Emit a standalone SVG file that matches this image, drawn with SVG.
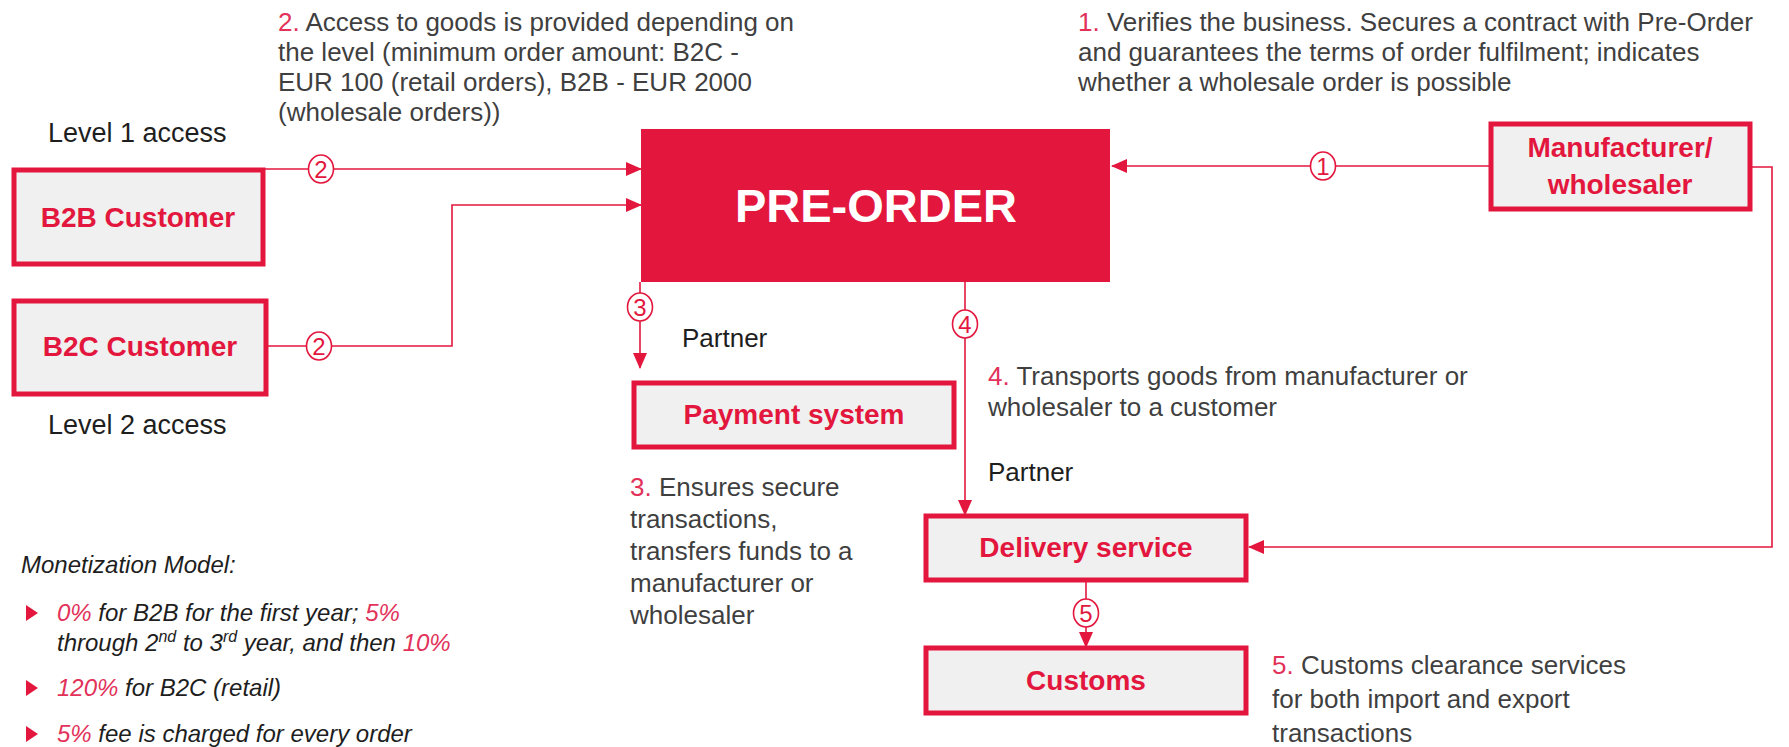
<svg xmlns="http://www.w3.org/2000/svg" width="1789" height="747" viewBox="0 0 1789 747">
  <defs>
    <marker id="arrow" markerUnits="userSpaceOnUse" markerWidth="16" markerHeight="14" refX="15" refY="7" orient="auto">
      <path d="M0,0 L16,7 L0,14 Z" fill="#E3173E"/>
    </marker>
  </defs>
  <style>
    .box{fill:#F0F0F0;stroke:#E3173E;stroke-width:5}
    .lbl{font-family:"Liberation Sans",Arial,sans-serif;font-weight:bold;fill:#E3173E;font-size:28px;text-anchor:middle}
    .desc{font-family:"Liberation Sans",Arial,sans-serif;font-size:26px;fill:#3F3F3F}
    .num{fill:#E2325A}
    .plain{font-family:"Liberation Sans",Arial,sans-serif;font-size:26px;fill:#1E1E1E}
    .level{font-size:27px}
    .conn{fill:none;stroke:#E3173E;stroke-width:1.6}
    .badge ellipse{fill:#FFFFFF;stroke:#E3173E;stroke-width:1.6}
    .badge text{font-family:"Liberation Sans",Arial,sans-serif;font-size:24px;fill:#E3173E;text-anchor:middle}
    .mon{font-family:"Liberation Sans",Arial,sans-serif;font-style:italic;font-size:24px;fill:#1E1E1E}
    .hl{fill:#E2325A}
    .bullet{fill:#E3173E}
  </style>
  <rect width="1789" height="747" fill="#FFFFFF"/>

  <!-- connectors -->
  <g id="connectors">
    <path class="conn" d="M262,169 H641" marker-end="url(#arrow)"/>
    <path class="conn" d="M265,346 H452 V205 H641" marker-end="url(#arrow)"/>
    <path class="conn" d="M1490,166 H1112" marker-end="url(#arrow)"/>
    <path class="conn" d="M1751,167 H1772 V547 H1249" marker-end="url(#arrow)"/>
    <path class="conn" d="M640,282 V368" marker-end="url(#arrow)"/>
    <path class="conn" d="M965,282 V515" marker-end="url(#arrow)"/>
    <path class="conn" d="M1086,580 V647" marker-end="url(#arrow)"/>
    <g class="badge"><ellipse cx="321" cy="169" rx="12.5" ry="14"/><text x="321" y="177.5">2</text></g>
    <g class="badge"><ellipse cx="319" cy="346" rx="12.5" ry="14"/><text x="319" y="354.5">2</text></g>
    <g class="badge"><ellipse cx="1323" cy="166" rx="12.5" ry="14"/><text x="1323" y="174.5">1</text></g>
    <g class="badge"><ellipse cx="640" cy="307" rx="12.5" ry="14"/><text x="640" y="315.5">3</text></g>
    <g class="badge"><ellipse cx="965" cy="324" rx="12.5" ry="14"/><text x="965" y="332.5">4</text></g>
    <g class="badge"><ellipse cx="1086" cy="613" rx="12.5" ry="14"/><text x="1086" y="621.5">5</text></g>
  </g>

  <!-- nodes -->
  <g id="pre-order">
    <rect x="641" y="129" width="469" height="153" fill="#E3173E"/>
    <text x="876" y="222" font-family="Liberation Sans, Arial, sans-serif" font-weight="bold" font-size="47" fill="#FFFFFF" text-anchor="middle">PRE-ORDER</text>
  </g>
  <g id="b2b-customer">
    <rect class="box" x="14" y="170" width="249" height="94"/>
    <text class="lbl" x="138" y="227">B2B Customer</text>
  </g>
  <g id="b2c-customer">
    <rect class="box" x="14" y="301" width="252" height="93"/>
    <text class="lbl" x="140" y="356">B2C Customer</text>
  </g>
  <g id="manufacturer">
    <rect class="box" x="1491" y="124" width="259" height="85"/>
    <text class="lbl" x="1620" y="157">Manufacturer/</text>
    <text class="lbl" x="1620" y="194">wholesaler</text>
  </g>
  <g id="payment-system">
    <rect class="box" x="634" y="383" width="320" height="64"/>
    <text class="lbl" x="794" y="424">Payment system</text>
  </g>
  <g id="delivery-service">
    <rect class="box" x="926" y="516" width="320" height="64"/>
    <text class="lbl" x="1086" y="557">Delivery service</text>
  </g>
  <g id="customs">
    <rect class="box" x="926" y="648" width="320" height="65"/>
    <text class="lbl" x="1086" y="690">Customs</text>
  </g>

  <!-- annotations -->
  <g id="notes">
    <text class="desc" x="278" y="31"><tspan class="num">2.</tspan> Access to goods is provided depending on</text>
    <text class="desc" x="278" y="61">the level (minimum order amount: B2C -</text>
    <text class="desc" x="278" y="91">EUR 100 (retail orders), B2B - EUR 2000</text>
    <text class="desc" x="278" y="121">(wholesale orders))</text>

    <text class="desc" x="1078" y="31"><tspan class="num">1.</tspan> Verifies the business. Secures a contract with Pre-Order</text>
    <text class="desc" x="1078" y="61">and guarantees the terms of order fulfilment; indicates</text>
    <text class="desc" x="1078" y="91">whether a wholesale order is possible</text>

    <text class="plain level" x="48" y="142">Level 1 access</text>
    <text class="plain level" x="48" y="434">Level 2 access</text>

    <text class="plain" x="682" y="347">Partner</text>
    <text class="plain" x="988" y="481">Partner</text>

    <text class="desc" x="988" y="385"><tspan class="num">4.</tspan> Transports goods from manufacturer or</text>
    <text class="desc" x="988" y="416">wholesaler to a customer</text>

    <text class="desc" x="630" y="496"><tspan class="num">3.</tspan> Ensures secure</text>
    <text class="desc" x="630" y="528">transactions,</text>
    <text class="desc" x="630" y="560">transfers funds to a</text>
    <text class="desc" x="630" y="592">manufacturer or</text>
    <text class="desc" x="630" y="624">wholesaler</text>

    <text class="desc" x="1272" y="674"><tspan class="num">5.</tspan> Customs clearance services</text>
    <text class="desc" x="1272" y="708">for both import and export</text>
    <text class="desc" x="1272" y="742">transactions</text>
  </g>

  <!-- monetization model -->
  <g id="monetization">
    <text class="mon" x="21" y="573">Monetization Model:</text>
    <path class="bullet" d="M26,605 L38,613 L26,621 Z"/>
    <text class="mon" x="57" y="621"><tspan class="hl">0%</tspan> for B2B for the first year; <tspan class="hl">5%</tspan></text>
    <text class="mon" x="57" y="651">through 2<tspan font-size="16" dy="-9">nd</tspan><tspan dy="9"> to 3</tspan><tspan font-size="16" dy="-9">rd</tspan><tspan dy="9"> year, and then </tspan><tspan class="hl">10%</tspan></text>
    <path class="bullet" d="M26,680 L38,688 L26,696 Z"/>
    <text class="mon" x="57" y="696"><tspan class="hl">120%</tspan> for B2C (retail)</text>
    <path class="bullet" d="M26,726 L38,734 L26,742 Z"/>
    <text class="mon" x="57" y="742"><tspan class="hl">5%</tspan> fee is charged for every order</text>
  </g>
</svg>
